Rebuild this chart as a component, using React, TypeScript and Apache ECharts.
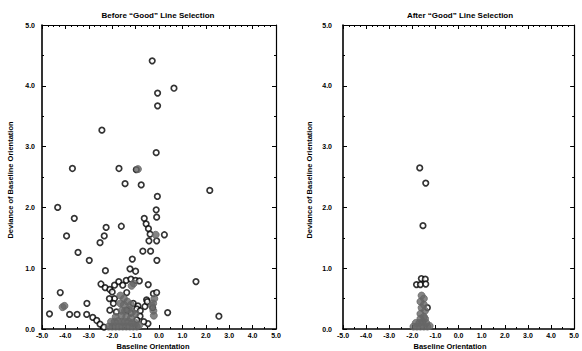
import React, { useEffect, useRef } from "react";
import * as echarts from "echarts";

const titles = ["Before “Good” Line Selection", "After “Good” Line Selection"];
const xTitle = "Baseline Orientation";
const yTitle = "Deviance of Baseline Orientation";

// Before selection: open circles
const beforeOpen: [number, number][] = [
  [-0.29, 4.41], [0.64, 3.96], [-0.06, 3.88], [-0.06, 3.67],
  [-2.44, 3.27], [-0.12, 2.9], [-3.7, 2.64], [-1.71, 2.64], [-0.97, 2.62], [-1.45, 2.39], [-0.76, 2.37],
  [-0.07, 2.18], [2.17, 2.28],
  [-4.33, 2.0], [-0.12, 1.96], [-0.1, 1.84], [-3.62, 1.82], [-0.63, 1.82], [-0.55, 1.73], [-2.26, 1.67],
  [-1.61, 1.69], [-0.45, 1.65],
  [-3.95, 1.53], [-2.34, 1.53], [-0.38, 1.56], [0.23, 1.55], [-0.43, 1.45], [-0.1, 1.45], [-2.52, 1.42],
  [-3.46, 1.26], [-0.69, 1.28], [-0.36, 1.28], [-2.98, 1.13], [-1.14, 1.15], [-0.09, 1.13],
  [-2.29, 0.96], [-1.24, 0.99], [-1.0, 0.95],
  [-2.48, 0.74], [-2.3, 0.68], [-2.1, 0.65], [-1.9, 0.72], [-1.72, 0.78], [-1.55, 0.72], [-1.4, 0.8],
  [-1.2, 0.82], [-1.0, 0.8], [-0.84, 0.79], [-0.46, 0.73],
  [-4.22, 0.6], [-2.0, 0.61], [-1.38, 0.6], [-0.24, 0.58], [-0.1, 0.6], [-1.9, 0.5], [-2.12, 0.5],
  [-0.53, 0.48], [-3.08, 0.42], [-1.95, 0.42], [-1.1, 0.42], [-0.6, 0.37], [-0.9, 0.38], [-0.5, 0.45],
  [-2.1, 0.31], [-1.82, 0.28], [-1.38, 0.31], [-1.2, 0.26], [-0.95, 0.33], [-0.8, 0.3], [-0.27, 0.35],
  [-4.68, 0.25], [-3.82, 0.24], [-3.5, 0.24], [-3.09, 0.24], [-2.83, 0.19], [-2.66, 0.14], [-2.52, 0.08],
  [-2.35, 0.03], [0.37, 0.27], [1.58, 0.78], [2.56, 0.21], [-0.81, 0.21], [-0.95, 0.15], [-0.47, 0.09],
  [-0.65, 0.12],
];

// Before selection: grey filled points
const beforeGray: [number, number][] = [
  [-2.15, 0.04], [-2.0, 0.04], [-1.85, 0.04], [-1.7, 0.04], [-1.55, 0.04], [-1.4, 0.04], [-1.25, 0.04],
  [-1.1, 0.04], [-0.95, 0.04], [-0.85, 0.06],
  [-2.05, 0.12], [-1.9, 0.12], [-1.75, 0.13], [-1.6, 0.12], [-1.45, 0.12], [-1.3, 0.12], [-1.15, 0.1], [-1.0, 0.1],
  [-1.85, 0.2], [-1.6, 0.22], [-1.4, 0.2], [-1.2, 0.18],
  [-1.65, 0.55], [-1.5, 0.5], [-1.65, 0.42], [-1.5, 0.4], [-1.35, 0.45], [-1.6, 0.3], [-1.45, 0.3],
  [-1.3, 0.32], [-1.15, 0.28], [-1.0, 0.25], [-1.2, 0.4],
  [-1.17, 0.71], [-1.08, 0.75],
  [-0.2, 0.5], [-0.25, 0.42], [-0.3, 0.38], [-0.24, 0.3], [-0.22, 0.22],
  [-4.12, 0.36], [-4.04, 0.38],
  [-0.9, 2.63], [-0.14, 1.55],
];

// After selection: open circles
const afterOpen: [number, number][] = [
  [-1.68, 2.65], [-1.42, 2.4], [-1.54, 1.7], [-1.61, 0.83], [-1.44, 0.82], [-1.82, 0.73], [-1.65, 0.73],
  [-1.42, 0.74], [-1.35, 0.35],
];

// After selection: grey filled points
const afterGray: [number, number][] = [
  [-1.6, 0.55], [-1.5, 0.5], [-1.65, 0.45], [-1.5, 0.4], [-1.6, 0.35], [-1.45, 0.3], [-1.65, 0.25], [-1.5, 0.2],
  [-1.95, 0.04], [-1.8, 0.04], [-1.65, 0.04], [-1.5, 0.04], [-1.35, 0.04], [-1.25, 0.05],
  [-1.85, 0.1], [-1.7, 0.1], [-1.55, 0.12], [-1.4, 0.1], [-1.65, 0.17], [-1.45, 0.17],
];

const FONT = "Liberation Sans, Arial, sans-serif";

export default function App() {
  const ref = useRef<HTMLDivElement>(null);
  useEffect(() => {
    if (!ref.current) return;
    const chart = echarts.init(ref.current, undefined, { renderer: "svg" });
    const grids = [
      { left: 42, top: 25, width: 234, height: 304 },
      { left: 343, top: 25, width: 234, height: 304 },
    ];
    const fmt = (v: number) => v.toFixed(1);
    const xAxes: any[] = [];
    const yAxes: any[] = [];
    grids.forEach((_, i) => {
      const base = {
        gridIndex: i,
        type: "value",
        splitLine: { show: false },
        axisLine: { show: true, onZero: false, lineStyle: { color: "#000", width: 1.6 } },
        axisTick: { show: true, inside: true, length: 4, lineStyle: { color: "#000", width: 1 } },
        minorTick: { show: true, splitNumber: 2, length: 2, lineStyle: { color: "#000", width: 1 } },
        minorSplitLine: { show: false },
      };
      xAxes.push({
        ...base,
        min: -5, max: 5, interval: 1, position: "bottom",
        axisLabel: {
          formatter: fmt, fontSize: 7, fontWeight: "bold", color: "#000", margin: 3, fontFamily: FONT,
          showMinLabel: true, showMaxLabel: true,
        },
      });
      xAxes.push({
        ...base,
        min: -5, max: 5, interval: 1, position: "top",
        axisLine: { show: true, onZero: false, lineStyle: { color: "#000", width: 1.2 } },
        minorTick: { show: true, splitNumber: 4, length: 2, lineStyle: { color: "#000", width: 1 } },
        axisLabel: { show: false },
      });
      yAxes.push({
        ...base,
        min: 0, max: 5, interval: 1, position: "left",
        axisLabel: {
          formatter: fmt, fontSize: 7, fontWeight: "bold", color: "#000", margin: i === 0 ? 7 : 11, fontFamily: FONT,
          showMinLabel: true, showMaxLabel: true,
        },
      });
      yAxes.push({
        ...base,
        min: 0, max: 5, interval: 1, position: "right",
        axisLine: { show: true, onZero: false, lineStyle: { color: "#000", width: 1.2 } },
        axisLabel: { show: false },
      });
    });
    const openStyle = { color: "#fff", borderColor: "#000", borderWidth: 1.7 };
    const grayStyle = { color: "#676767", borderColor: "#676767", borderWidth: 1 };
    const series: any[] = [
      { type: "scatter", xAxisIndex: 0, yAxisIndex: 0, data: beforeOpen, symbol: "circle", symbolSize: 5.5, itemStyle: openStyle, z: 2 },
      { type: "scatter", xAxisIndex: 0, yAxisIndex: 0, data: beforeGray, symbol: "circle", symbolSize: 7, itemStyle: grayStyle, z: 3 },
      { type: "scatter", xAxisIndex: 2, yAxisIndex: 2, data: afterOpen, symbol: "circle", symbolSize: 5.5, itemStyle: openStyle, z: 2 },
      { type: "scatter", xAxisIndex: 2, yAxisIndex: 2, data: afterGray, symbol: "circle", symbolSize: 7, itemStyle: grayStyle, z: 3 },
    ];
    const txt = (text: string, x: number, y: number, size: number, rot = 0) => ({
      type: "text",
      x, y, rotation: rot,
      style: { text, fontSize: size, fontWeight: "bold", fill: "#000", fontFamily: FONT, align: "center", verticalAlign: "middle" },
    });
    chart.setOption({
      animation: false,
      backgroundColor: "#fff",
      grid: grids,
      xAxis: xAxes,
      yAxis: yAxes,
      series,
      graphic: [
        txt(titles[0], 158, 15, 8),
        txt(titles[1], 460, 15, 8),
        txt(xTitle, 153, 346, 7.5),
        txt(xTitle, 450, 346, 7.5),
        txt(yTitle, 10, 180, 7.5, Math.PI / 2),
        txt(yTitle, 309, 180, 7.5, Math.PI / 2),
      ],
    });
    return () => chart.dispose();
  }, []);
  return (
    <div
      ref={ref}
      style={{ position: "absolute", left: 0, top: 0, width: 582, height: 351 }}
    />
  );
}
